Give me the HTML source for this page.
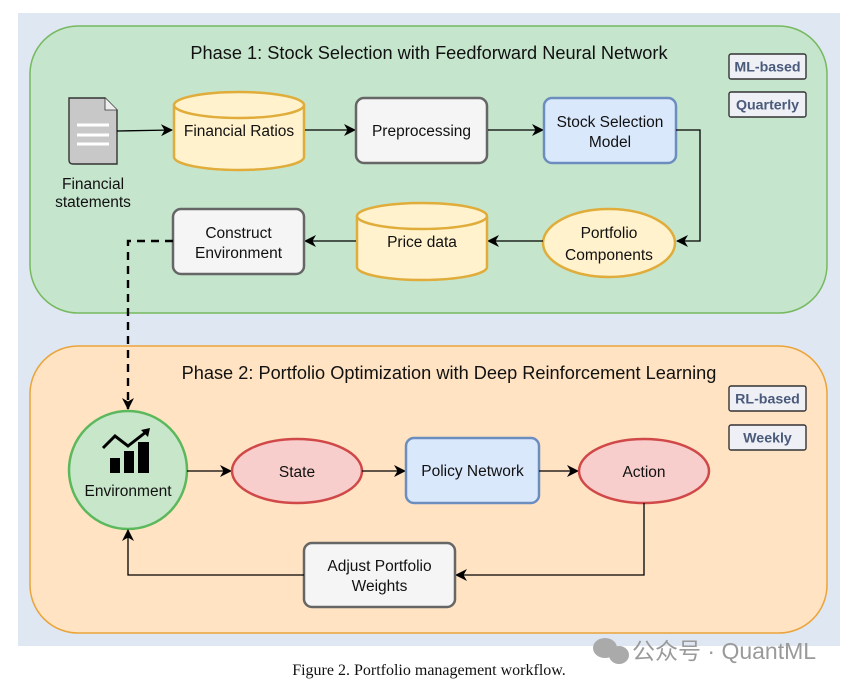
<!DOCTYPE html>
<html><head><meta charset="utf-8"><style>
html,body{margin:0;padding:0;background:#fff;width:866px;height:684px;overflow:hidden}
svg{display:block}
text{font-family:"Liberation Sans",sans-serif;fill:#111}
</style></head><body>
<svg width="866" height="684" viewBox="0 0 866 684" xmlns="http://www.w3.org/2000/svg">
<defs>
<marker id="ah" markerWidth="12" markerHeight="12" refX="11" refY="6" orient="auto" markerUnits="userSpaceOnUse">
<path d="M0,0 L12,6 L0,12 L3.5,6 Z" fill="#000"/></marker>
</defs>
<rect x="18" y="13" width="822" height="633" fill="#dfe7f3"/>
<!-- Phase 1 -->
<rect x="30" y="26" width="797" height="287" rx="48" fill="#c6e5cd" stroke="#76b95f" stroke-width="1.5"/>
<text x="429" y="59" font-size="18.2" text-anchor="middle">Phase 1: Stock Selection with Feedforward Neural Network</text>
<g font-size="14.2" font-weight="bold" text-anchor="middle">
<rect x="729" y="54" width="77" height="25" rx="2" fill="#eef0f6" stroke="#333" stroke-width="1.4"/>
<text x="767.5" y="71.5" style="fill:#4a5a7a">ML-based</text>
<rect x="729" y="92" width="77" height="25" rx="2" fill="#eef0f6" stroke="#333" stroke-width="1.4"/>
<text x="767.5" y="109.5" style="fill:#4a5a7a">Quarterly</text>
</g>
<!-- doc -->
<path d="M69,98 L105,98 L117,110 L117,164 L73,164 Q69,164 69,160 Z" fill="#c8c8c8" stroke="#333" stroke-width="1.4"/>
<path d="M105,98 L105,110 L117,110" fill="#eee" stroke="#333" stroke-width="0.8"/>
<g stroke="#fff" stroke-width="3"><line x1="77" y1="125" x2="109" y2="125"/><line x1="77" y1="135" x2="109" y2="135"/><line x1="77" y1="144" x2="109" y2="144"/></g>
<text x="93" y="189" font-size="15.5" text-anchor="middle">Financial</text>
<text x="93" y="207" font-size="15.5" text-anchor="middle">statements</text>
<line x1="117" y1="131" x2="172" y2="130" stroke="#000" stroke-width="1.3" marker-end="url(#ah)"/>
<path d="M174,105 L174,157 A65,13 0 0 0 304,157 L304,105" fill="#fff2cc" stroke="#e0ac3a" stroke-width="2.5"/>
<ellipse cx="239" cy="105" rx="65" ry="13" fill="#fff2cc" stroke="#e0ac3a" stroke-width="2.5"/>
<text x="239" y="136" font-size="15.5" text-anchor="middle">Financial Ratios</text>
<line x1="305" y1="130" x2="355" y2="130" stroke="#000" stroke-width="1.3" marker-end="url(#ah)"/>
<rect x="356" y="98" width="131" height="65" rx="8" fill="#f5f5f5" stroke="#666" stroke-width="2.5"/>
<text x="421.5" y="136" font-size="15.5" text-anchor="middle">Preprocessing</text>
<line x1="488" y1="130" x2="543" y2="130" stroke="#000" stroke-width="1.3" marker-end="url(#ah)"/>
<rect x="544" y="98" width="132" height="65" rx="8" fill="#dae8fc" stroke="#6c8ebf" stroke-width="2.5"/>
<text x="610" y="127" font-size="15.5" text-anchor="middle">Stock Selection</text>
<text x="610" y="147" font-size="15.5" text-anchor="middle">Model</text>
<polyline points="676,130 700,130 700,241 677,241" fill="none" stroke="#000" stroke-width="1.3" marker-end="url(#ah)"/>
<ellipse cx="609" cy="243" rx="66" ry="34" fill="#fff2cc" stroke="#e0ac3a" stroke-width="2.5"/>
<text x="609" y="238" font-size="15.5" text-anchor="middle">Portfolio</text>
<text x="609" y="260" font-size="15.5" text-anchor="middle">Components</text>
<line x1="543" y1="241" x2="488" y2="241" stroke="#000" stroke-width="1.3" marker-end="url(#ah)"/>
<path d="M357,216 L357,267 A65,13 0 0 0 487,267 L487,216" fill="#fff2cc" stroke="#e0ac3a" stroke-width="2.5"/>
<ellipse cx="422" cy="216" rx="65" ry="13" fill="#fff2cc" stroke="#e0ac3a" stroke-width="2.5"/>
<text x="422" y="247" font-size="15.5" text-anchor="middle">Price data</text>
<line x1="356" y1="241" x2="305" y2="241" stroke="#000" stroke-width="1.3" marker-end="url(#ah)"/>
<rect x="173" y="209" width="131" height="65" rx="8" fill="#f5f5f5" stroke="#666" stroke-width="2.5"/>
<text x="238.5" y="238" font-size="15.5" text-anchor="middle">Construct</text>
<text x="238.5" y="258" font-size="15.5" text-anchor="middle">Environment</text>
<!-- Phase 2 -->
<rect x="30" y="346" width="797" height="287" rx="48" fill="#ffe3c2" stroke="#eaa43a" stroke-width="1.5"/>
<text x="449" y="379" font-size="18.2" text-anchor="middle">Phase 2: Portfolio Optimization with Deep Reinforcement Learning</text>
<g font-size="14.2" font-weight="bold" text-anchor="middle">
<rect x="729" y="386" width="77" height="25" rx="2" fill="#eef0f6" stroke="#333" stroke-width="1.4"/>
<text x="767.5" y="403.5" style="fill:#4a5a7a">RL-based</text>
<rect x="729" y="425" width="77" height="25" rx="2" fill="#eef0f6" stroke="#333" stroke-width="1.4"/>
<text x="767.5" y="442.5" style="fill:#4a5a7a">Weekly</text>
</g>
<polyline points="173,241 128,241 128,409" fill="none" stroke="#000" stroke-width="2.4" stroke-dasharray="8,6" marker-end="url(#ah)"/>
<circle cx="128" cy="470" r="59" fill="#c8e6c9" stroke="#5cb85c" stroke-width="2.5"/>
<g fill="#000">
<rect x="110" y="458" width="10" height="15"/><rect x="124" y="451" width="10" height="22"/><rect x="138" y="442" width="11" height="31"/>
</g>
<polyline points="103,448 115,436 128,446 146,432" fill="none" stroke="#000" stroke-width="3"/>
<path d="M141,430 L150,428 L148,437 Z" fill="#000"/>
<text x="128" y="496" font-size="15.5" text-anchor="middle">Environment</text>
<line x1="187" y1="471" x2="231" y2="471" stroke="#000" stroke-width="1.3" marker-end="url(#ah)"/>
<ellipse cx="297" cy="471" rx="65" ry="32" fill="#f8cecc" stroke="#d04848" stroke-width="2.5"/>
<text x="297" y="477" font-size="15.5" text-anchor="middle">State</text>
<line x1="362" y1="471" x2="405" y2="471" stroke="#000" stroke-width="1.3" marker-end="url(#ah)"/>
<rect x="406" y="438" width="133" height="65" rx="8" fill="#dae8fc" stroke="#6c8ebf" stroke-width="2.5"/>
<text x="472.5" y="476" font-size="15.5" text-anchor="middle">Policy Network</text>
<line x1="539" y1="471" x2="578" y2="471" stroke="#000" stroke-width="1.3" marker-end="url(#ah)"/>
<ellipse cx="644" cy="471" rx="65" ry="32" fill="#f8cecc" stroke="#d04848" stroke-width="2.5"/>
<text x="644" y="477" font-size="15.5" text-anchor="middle">Action</text>
<polyline points="644,503 644,575 456,575" fill="none" stroke="#000" stroke-width="1.3" marker-end="url(#ah)"/>
<rect x="304" y="543" width="151" height="64" rx="8" fill="#f5f5f5" stroke="#666" stroke-width="2.5"/>
<text x="379.5" y="571" font-size="15.5" text-anchor="middle">Adjust Portfolio</text>
<text x="379.5" y="591" font-size="15.5" text-anchor="middle">Weights</text>
<polyline points="304,575 128,575 128,530" fill="none" stroke="#000" stroke-width="1.3" marker-end="url(#ah)"/>
<!-- watermark -->
<g fill="#aaa"><ellipse cx="605" cy="648" rx="12" ry="10"/><ellipse cx="619" cy="655" rx="10" ry="9"/></g>
<text x="632" y="659" font-size="23" style="fill:#9a9a9a;font-family:'Liberation Sans','Noto Sans CJK SC',sans-serif">公众号 · QuantML</text>
<text x="429" y="675" font-size="16" text-anchor="middle" style="font-family:'Liberation Serif',serif">Figure 2.  Portfolio management workflow.</text>
</svg>
</body></html>
